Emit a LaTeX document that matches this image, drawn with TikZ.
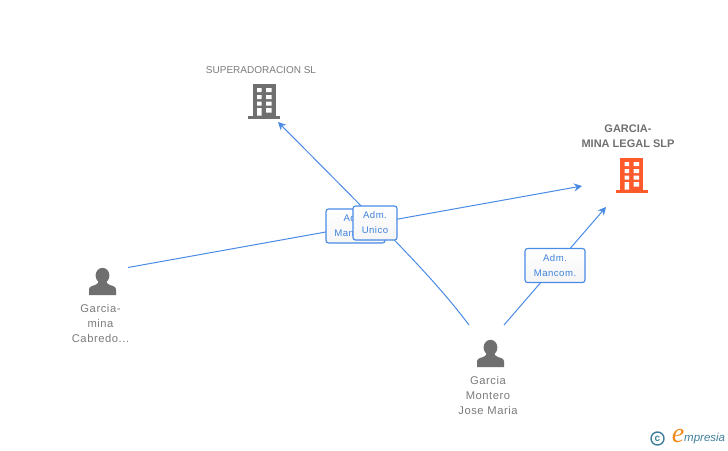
\documentclass[tikz,border=0pt]{standalone}
\usepackage{fontspec}
\setmainfont{Liberation Sans}
\newfontfamily\widesans[LetterSpace=5]{Liberation Sans}
\newfontfamily\logoserif{Liberation Serif}
\usetikzlibrary{arrows.meta}
\definecolor{linkblue}{HTML}{4A8BE6}
\definecolor{labelblue}{HTML}{3F82DC}
\definecolor{icongrey}{HTML}{6F6F6F}
\definecolor{textgrey}{HTML}{7C7C7C}
\definecolor{boldgrey}{HTML}{707070}
\definecolor{orangeicon}{HTML}{FF5A2C}
\definecolor{logoblue}{HTML}{3F7F9C}
\definecolor{logoorange}{HTML}{F08A1D}
\tikzset{
  x=1pt,y=-1pt,
  link/.style={draw=linkblue,line width=1pt},
  arrowlink/.style={link,-{Stealth[length=8pt,width=8pt]}},
  rolebox/.style={draw=linkblue,line width=1.1pt,rounded corners=2.5pt,top color=white,bottom color=black!4,
    minimum width=#1,minimum height=34pt,inner sep=0pt,align=center,text=labelblue,
    font=\widesans\fontsize{9.6}{15}\selectfont},
  caption/.style={align=center,text=textgrey,font=\fontsize{10}{14.5}\selectfont,inner sep=0pt},
  personcaption/.style={align=center,text=textgrey,font=\widesans\fontsize{11.2}{14.7}\selectfont,inner sep=0pt},
  boldcaption/.style={align=center,text=boldgrey,font=\bfseries\fontsize{11}{15}\selectfont,inner sep=0pt},
  iconspot/.style={inner sep=0pt,minimum size=0pt},
  building/.pic={
    \fill[pic actions] (-16,17.5) rectangle (16,14.5);
    \fill[pic actions] (-11.5,-17) rectangle (11.5,16);
    \fill[white] (-7,-13) rectangle (-2.5,-9) (2,-13) rectangle (7.5,-9)
      (-7,-6) rectangle (-2.5,-2) (2,-6) rectangle (7.5,-2)
      (-7,0.5) rectangle (-2.5,4.5) (2,0.5) rectangle (7.5,4.5)
      (-7,7) rectangle (-2.5,14.5) (2,7) rectangle (7.5,11.5);
  },
  person/.pic={
    \fill[pic actions] (0,-5.5) ellipse (6.9 and 7.7);
    \fill[pic actions] (-13.5,14) -- (-13.5,8.5) .. controls (-13.5,5.5) and (-10,4.8) .. (-7,3.8)
      .. controls (-4.5,3) and (-4,1.5) .. (-4,0) -- (4,0)
      .. controls (4,1.5) and (4.5,3) .. (7,3.8)
      .. controls (10,4.8) and (13.5,5.5) .. (13.5,8.5) -- (13.5,14) -- cycle;
  },
}
\begin{document}
\begin{tikzpicture}
\useasboundingbox (0,0) rectangle (728,450);
\fill[white] (0,0) rectangle (728,450);
% icons
\pic[fill=icongrey] at (264,101) {building};
\pic[fill=orangeicon] at (631.5,175) {building};
\pic[fill=icongrey] at (102.5,281) {person};
\pic[fill=icongrey] at (490.5,353) {person};
\node[iconspot] (superador) at (264,101) {};
\node[iconspot] (garcialegal) at (631.5,175) {};
\node[iconspot] (cabredo) at (102.5,281) {};
\node[iconspot] (montero) at (490.5,353) {};
% captions
\node[caption] (superadorname) at (261,70.5) {SUPERADORACION SL};
\node[boldcaption] (garcialegalname) at (628,136) {GARCIA-\\MINA LEGAL SLP};
\node[personcaption] (cabredoname) at (100.5,323.5) {Garcia-\\mina\\Cabredo...};
\node[personcaption] (monteroname) at (488,395.5) {Garcia\\Montero\\Jose Maria};
% connector ends
\coordinate (e1s) at (128,267.5);
\coordinate (e1t) at (582,186);
\coordinate (e2s) at (469,325);
\coordinate (e2t) at (278,122);
\coordinate (e3s) at (504,325);
\coordinate (e3t) at (606,207);
% connectors
\draw[arrowlink] (e1s) -- (e1t);
\draw[arrowlink] (e2s) .. controls (435,280) and (400,245) .. (e2t);
\draw[arrowlink] (e3s) -- (e3t);
% labels
\node[rolebox=59pt] (role1) at (355.5,226) {Adm.\\Mancom.};
\node[rolebox=44pt] (role2) at (375,223) {Adm.\\Unico};
\node[rolebox=60pt] (role3) at (555,265.5) {Adm.\\Mancom.};
% logo
\node[circle,draw=logoblue,line width=1.4pt,text=logoblue,inner sep=0pt,minimum size=13pt,font=\bfseries\fontsize{10}{10}\selectfont] (copyr) at (657.5,438.5) {c};
\node[inner sep=0pt,text=logoorange,font=\logoserif\itshape\fontsize{28}{28}\selectfont] (logoe) at (678,436.5) {e};
\node[inner sep=0pt,text=logoblue,anchor=west,font=\itshape\fontsize{11.5}{12}\selectfont] (logotext) at (684,439) {mpresia};
\end{tikzpicture}
\end{document}
